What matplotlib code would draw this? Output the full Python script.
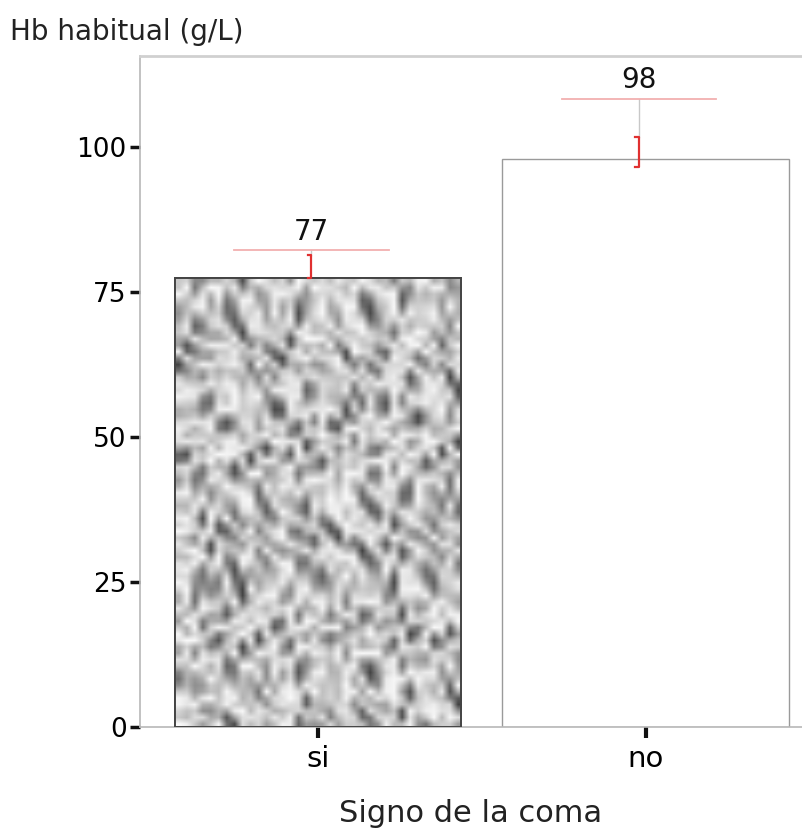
import numpy as np
import matplotlib
matplotlib.use("Agg")
import matplotlib.pyplot as plt

# data
categories = ["si", "no"]
means = [77.4, 97.9]
value_labels = ["77", "98"]
ci_low = [77.4, 96.6]
ci_high = [81.4, 101.7]
ref_upper = [82.2, 108.3]

plt.rcParams['font.family'] = ['DejaVu Sans']

fig = plt.figure(figsize=(8.03, 8.32), dpi=100)
ax = fig.add_axes([0.1743, 0.1262, 0.8257, 0.8065])

x = np.arange(len(categories))
bars = ax.bar(x, means, width=0.875, color="white", edgecolor="#444444",
              linewidth=1.2, zorder=2)
bars[1].set_edgecolor("#9a9a9a")
bars[1].set_linewidth(1.0)

# textured fill for the first bar (deterministic pattern)
b = bars[0]
gx, gy = np.meshgrid(np.linspace(0, 1, 36), np.linspace(0, 1, 70))
tex = (np.sin(gx * 24 + 4 * np.sin(gy * 15)) * np.cos(gy * 27 + 3 * np.cos(gx * 18))
       + 0.5 * np.sin(gx * 40 + gy * 35 + 2 * np.sin(gy * 9)))
tex = -np.abs(tex)
img = ax.imshow(tex, cmap="gray", vmin=-2.0, vmax=0.05, interpolation="bilinear",
                extent=[b.get_x(), b.get_x() + b.get_width(), 0, b.get_height()],
                aspect="auto", zorder=2.5, origin="lower")
img.set_clip_path(b)
ax.bar(x[:1], means[:1], width=0.875, color="none", edgecolor="#444444",
       linewidth=1.4, zorder=3)

for i in range(len(categories)):
    xi = x[i] - 0.02
    # connector and reference line
    ax.plot([xi, xi], [ci_high[i], ref_upper[i]], color="#c8c8c8", lw=1, zorder=4)
    ax.plot([xi - 0.235, xi + 0.235], [ref_upper[i], ref_upper[i]], color="#f2b0b0",
            lw=1.3, zorder=4)
    # red interval bracket
    ax.plot([xi - 0.012, xi, xi, xi - 0.012], [ci_high[i], ci_high[i], ci_low[i], ci_low[i]],
            color="#e03030", lw=1.6, zorder=5)
    ax.text(xi, ref_upper[i] + 0.8, value_labels[i], ha="center", va="bottom",
            fontsize=20, color="#111111", zorder=6)

ax.set_xlim(-0.543, 1.479)
ax.set_ylim(0, 115.7)
ax.set_yticks([0, 25, 50, 75, 100])
ax.set_xticks(x)
ax.set_xticklabels(categories)

for side in ["left", "bottom"]:
    ax.spines[side].set_color("#b8b8b8")
    ax.spines[side].set_linewidth(1.2)
ax.spines["top"].set_color("#d0d0d0")
ax.spines["top"].set_linewidth(2)
ax.spines["right"].set_visible(False)

ax.tick_params(axis="y", direction="out", length=7, width=2.5, color="#111111",
               labelsize=19, pad=2.5)
ax.tick_params(axis="x", direction="out", length=8, width=3, color="#111111",
               labelsize=21, pad=5)
fig.text(0.586, 0.022, "Signo de la coma", fontsize=22, ha="center", va="center",
         color="#222222")
fig.text(0.012, 0.962, "Hb habitual (g/L)", fontsize=20, ha="left", va="center",
         color="#222222")

fig.savefig("out.png", dpi=100)
